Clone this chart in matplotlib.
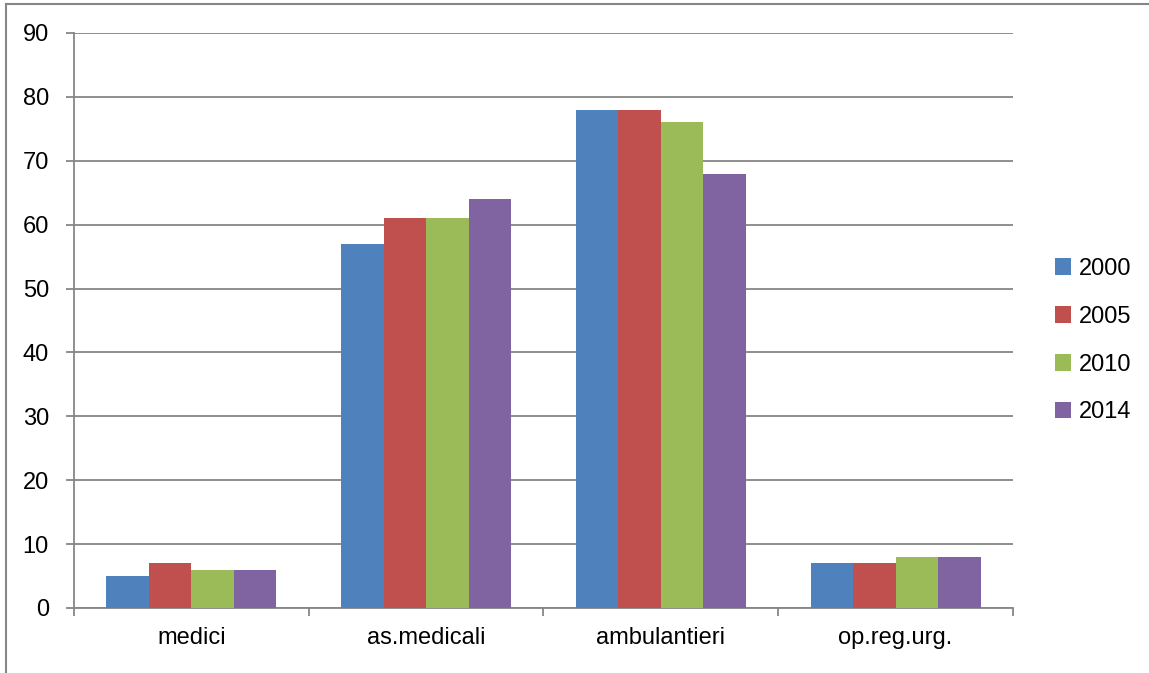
import numpy as np
import matplotlib.pyplot as plt
from matplotlib.patches import Patch
from matplotlib.lines import Line2D

plt.rcParams["font.family"] = ["Liberation Sans", "DejaVu Sans"]

# ---------------- DATA ----------------
categories = ["medici", "as.medicali", "ambulantieri", "op.reg.urg."]
years = ["2000", "2005", "2010", "2014"]
v2000 = [5, 57, 78, 7]
v2005 = [7, 61, 78, 7]
v2010 = [6, 61, 76, 8]
v2014 = [6, 64, 68, 8]
series = [v2000, v2005, v2010, v2014]
colors = ["#4f81bd", "#c0504d", "#9bbb59", "#8064a2"]

grey = "#868686"

# ---------------- PLOT ----------------
fig = plt.figure(figsize=(11.49, 6.73), dpi=100)
ax = fig.add_axes([0.0644, 0.0966, 0.8172, 0.8544])

x = np.arange(len(categories))
width = 0.181
for i, (vals, col) in enumerate(zip(series, colors)):
    ax.bar(x + (i - 1.5) * width, vals, width, color=col, label=years[i],
           zorder=3)

ax.set_xlim(-0.5, len(categories) - 0.5)
ax.set_ylim(0, 90)
ax.set_yticks(np.arange(0, 91, 10))
ax.yaxis.grid(True, color=grey, linewidth=1.3, zorder=0)

ax.set_xticks(x)
ax.set_xticklabels(categories)
ax.set_xticks(np.arange(-0.5, len(categories)), minor=True)
ax.tick_params(axis="x", which="major", length=0, pad=14, labelsize=17)
ax.tick_params(axis="x", which="minor", length=6, width=1.3, color=grey)
ax.tick_params(axis="y", length=6, width=1.3, color=grey, pad=12,
               labelsize=17)

for s in ["top", "right"]:
    ax.spines[s].set_visible(False)
for s in ["left", "bottom"]:
    ax.spines[s].set_color(grey)
    ax.spines[s].set_linewidth(1.3)

handles = [Patch(facecolor=c, edgecolor="none") for c in colors]
fig.legend(handles, years, loc="center left", bbox_to_anchor=(0.918, 0.494),
           frameon=False, fontsize=17, borderpad=0, borderaxespad=0,
           handlelength=0.7, handleheight=0.7, handletextpad=0.3,
           labelspacing=1.1)

# outer chart border
fig.add_artist(Line2D([0.0055, 0.0055], [0, 0.994], transform=fig.transFigure,
                      color=grey, linewidth=1.5))
fig.add_artist(Line2D([0.0055, 1], [0.994, 0.994], transform=fig.transFigure,
                      color=grey, linewidth=1.5))

plt.savefig("out.png", dpi=100)
